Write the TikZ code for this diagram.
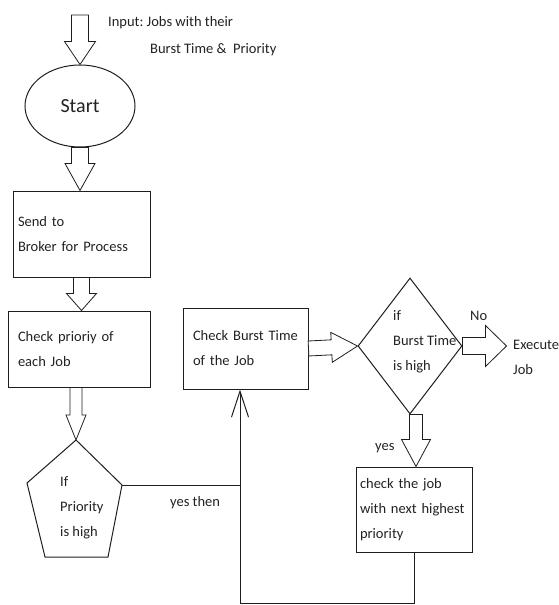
\documentclass[tikz,border=0pt]{standalone}
\usepackage{fontspec}
\setmainfont{Carlito}
\usetikzlibrary{calc,shapes.geometric,arrows.meta}
\definecolor{ink}{HTML}{1E1E1E}
\definecolor{txt}{HTML}{222222}
\frenchspacing
\newcommand\blockarr[5]{%
  \path ($(#2)!#5!(#1)$) coordinate (ba-c);
  \draw[blk] ($(#1)!#3!90:(#2)$) -- ($(ba-c)!#3!90:(#2)$) -- ($(ba-c)!#4!90:(#2)$) -- (#2)
    -- ($(ba-c)!#4!-90:(#2)$) -- ($(ba-c)!#3!-90:(#2)$) -- ($(#1)!#3!-90:(#2)$) -- cycle;}
\begin{document}
\begin{tikzpicture}[x=1pt,y=-1pt,
  every node/.style={text=txt},
  lbl/.style={inner sep=0pt, font=\fontsize{14.5}{25}\selectfont},
  tlbl/.style={lbl, align=left, anchor=west},
  box/.style={draw=ink, line width=1pt, rectangle, align=left, inner ysep=0pt, font=\fontsize{14.5}{25}\selectfont},
  blk/.style={draw=ink, line width=0.8pt, fill=white, line join=miter},
  conn/.style={draw=ink, line width=1pt}]
\useasboundingbox (0,0) rectangle (559,605);

% input
\coordinate (inTop) at (80,15);
\node[lbl, anchor=base west] (in1) at (108,27) {Input: Jobs with their};
\node[lbl, anchor=base west] (in2) at (150,53) {Burst Time \&\ \ Priority};

% start
\node[draw=ink, line width=1pt, ellipse, minimum width=110pt, minimum height=82pt, inner sep=0pt,
      font=\fontsize{20}{24}\selectfont] (start) at (80,106) {\raisebox{-2pt}{Start}};

% boxes
\node[box, text width=127pt, inner xsep=5pt, minimum height=86pt] (send) at (81.5,234) {Send to\\Broker for Process};
\node[box, text width=122pt, inner xsep=10pt, minimum height=76pt] (check) at (79,349) {Check prioriy of\\each Job};
\node[box, text width=105pt, inner xsep=10pt, minimum height=81pt] (burst) at (245.5,348.5) {Check Burst Time\\of the Job};
\node[box, text width=108pt, inner xsep=4pt, minimum height=85pt] (job) at (414,509.5) {check the job\\with next highest\\priority};

% pentagon
\coordinate (ptop) at (76,440);
\coordinate (pR) at (122,485);
\coordinate (pBR) at (108,557);
\coordinate (pBL) at (45,557);
\coordinate (pL) at (27,483);
\draw[conn] (ptop) -- (pR) -- (pBR) -- (pBL) -- (pL) -- cycle;
\node[tlbl] (prio) at (60,508) {If\\Priority\\is high};

% diamond
\node[draw=ink, line width=1pt, diamond, minimum width=104pt, minimum height=136pt, inner sep=0pt] (dia) at (410,346) {};
\node[tlbl] (diat) at (393,342) {if\\Burst Time\\is high};

% execute
\node[tlbl] (exe) at (513,357) {Execute\\Job};

% block arrows
\blockarr{inTop}{start.north}{8.5pt}{15.5pt}{23pt}
\coordinate (a2e) at (start.south |- send.north);
\blockarr{start.south}{a2e}{8.5pt}{15pt}{27pt}
\coordinate (a3e) at (send.south |- check.north);
\blockarr{send.south}{a3e}{8pt}{15pt}{17pt}
\coordinate (a4s) at (check.south -| ptop);
\blockarr{a4s}{ptop}{6pt}{10pt}{25pt}
\blockarr{burst.east}{dia.west}{7.5pt}{15pt}{26pt}
\coordinate (a6e) at ($(dia.east)+(44,0)$);
\blockarr{dia.east}{a6e}{8.5pt}{20.5pt}{21pt}
\coordinate (a7s) at ($(dia.south)+(6,0)$);
\coordinate (a7e) at (a7s |- job.north);
\blockarr{a7s}{a7e}{6.5pt}{14.5pt}{27pt}

% line connectors
\coordinate (loop) at (240,603);
\draw[conn] (pR) -- (pR -| loop);
\draw[conn, -{Straight Barb[length=26pt, width=17pt, line width=1pt]}] (job.south) |- (loop) -- (loop |- burst.south);

% labels
\node[lbl, anchor=west] (yesthen) at (170,503) {yes then};
\node[lbl, anchor=west] (yes) at (375,448) {yes};
\node[lbl, anchor=west] (no) at (470,316) {No};
\end{tikzpicture}
\end{document}
